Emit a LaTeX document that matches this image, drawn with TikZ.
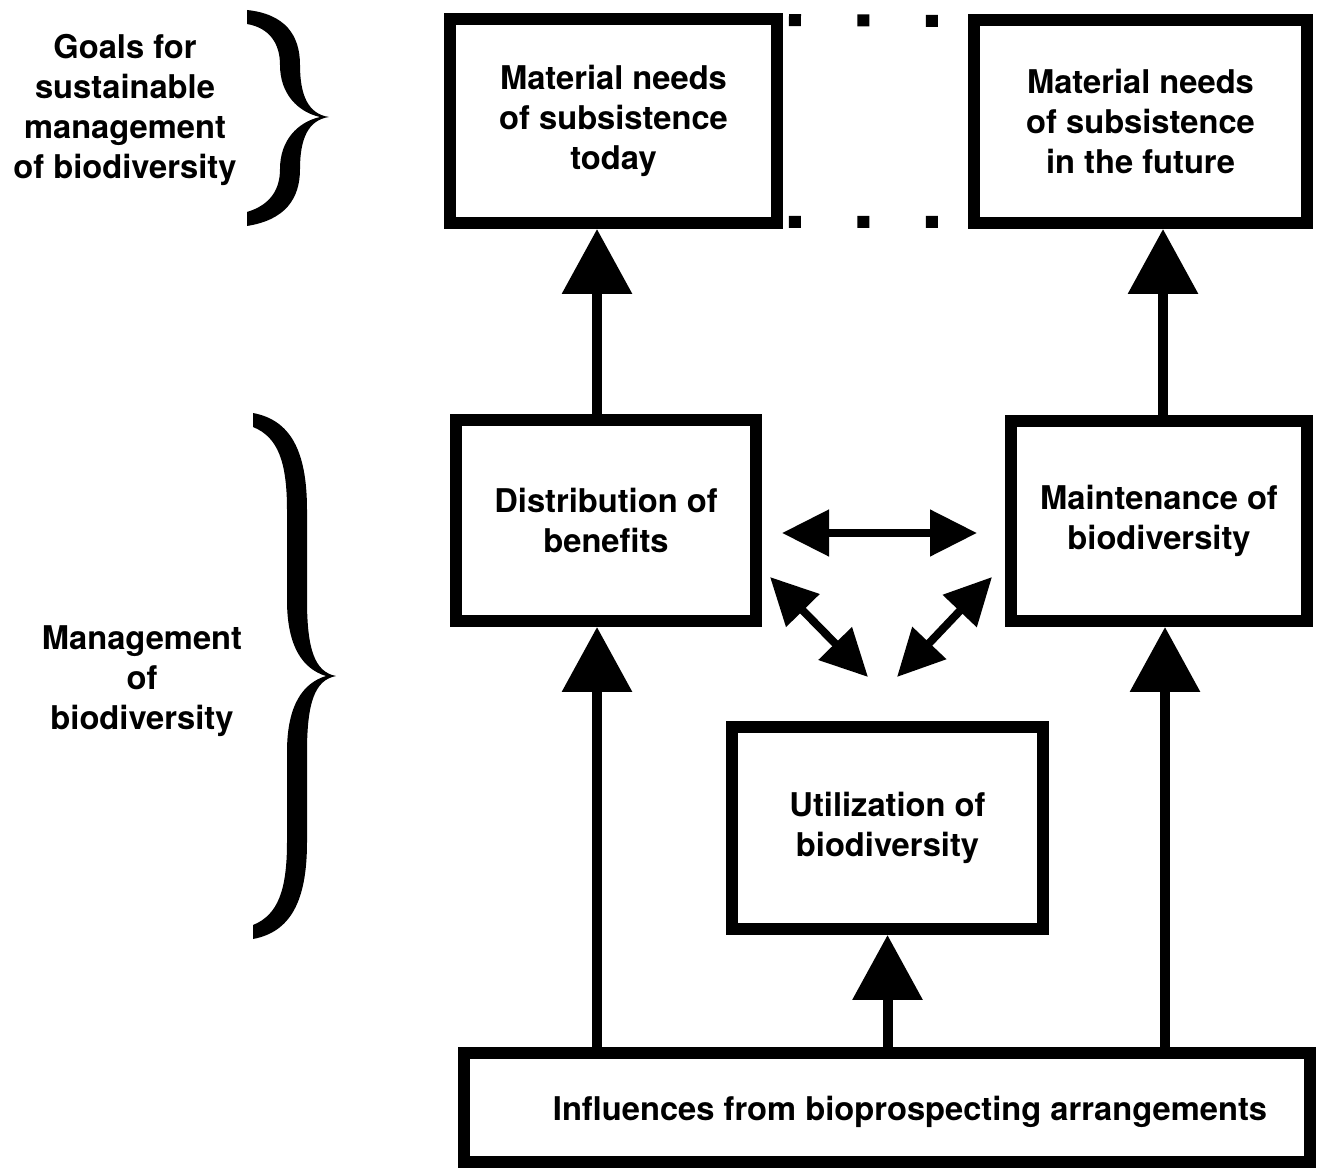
\documentclass[tikz,border=0pt]{standalone}
\usepackage{fontspec}
\setmainfont{TeX Gyre Heros}
\usetikzlibrary{arrows.meta}

\begin{document}
\begin{tikzpicture}[x=0.02cm, y=-0.02cm,
  font=\fontsize{18.6}{22.8}\selectfont\bfseries,
  box/.style={draw, rectangle, line width=0.24cm, align=center, inner sep=0pt},
  bigarrow/.style={line width=0.2cm, -{Triangle[width=1.36cm, length=1.3cm]}},
  twoway/.style={line width=0.16cm, {Triangle[width=0.9cm, length=0.94cm]}-{Triangle[width=0.9cm, length=0.94cm]}},
  gap/.style={line width=0.24cm, dash pattern=on 0.24cm off 1.13cm, dash phase=1.25cm}]
\useasboundingbox[fill=white] (0,0) rectangle (1327,1175);

\node[box, minimum width=6.54cm, minimum height=4.08cm](G1) at (613.5,121) {Material needs\\of subsistence\\today};
\node[box, minimum width=6.66cm, minimum height=4.06cm](G2) at (1140.5,121.5) {Material needs\\of subsistence\\in the future};
\node[box, minimum width=6cm, minimum height=4.02cm](M1) at (606,520.5) {Distribution of\\benefits};
\node[box, minimum width=5.92cm, minimum height=4cm](M2) at (1159,521) {Maintenance of\\biodiversity};
\node[box, minimum width=6.22cm, minimum height=4.04cm](U) at (887.5,828) {Utilization of\\biodiversity};
\node[box, minimum width=16.92cm, minimum height=2.18cm](I) at (887,1107.5) {};
\node (I_text) at ([xshift=0.46cm, yshift=-0.09cm]I.center) {Influences from bioprospecting arrangements};

\node[align=center](T1) at (125,110) {Goals for\\sustainable\\management\\of biodiversity};
\node[align=center](T2) at (142,681) {Management\\of\\biodiversity};

\draw[gap]([yshift=-0.14cm]G1.north east) -- ([yshift=-0.14cm]G2.north west);
\draw[gap]([yshift=0.14cm]G1.south east) -- ([yshift=0.14cm]G2.south west);

\coordinate (A1) at ([xshift=-0.18cm]M1.north);
\coordinate (A2) at ([xshift=0.08cm]M2.north);
\coordinate (A3) at ([xshift=-0.18cm]M1.south);
\coordinate (A4) at ([xshift=0.12cm]M2.south);
\draw[bigarrow](A1) -- (A1 |- G1.south);
\draw[bigarrow](A2) -- (A2 |- G2.south);
\draw[bigarrow](A3 |- I.north) -- (A3);
\draw[bigarrow](U.south |- I.north) -- (U.south);
\draw[bigarrow](A4 |- I.north) -- (A4);

\coordinate (H1) at (782,533);
\coordinate (H2) at (977,533);
\coordinate (L1) at (770,577);
\coordinate (L2) at (868,677);
\coordinate (R1) at (992,577);
\coordinate (R2) at (897,677);
\draw[twoway](H1) -- (H2);
\draw[twoway](L1) -- (L2);
\draw[twoway](R1) -- (R2);

\fill (247,10) .. controls (285,14) and (300,35) .. (300,65) .. controls (300,95) and (308,114) .. (329,117)
  .. controls (308,120) and (300,139) .. (300,169) .. controls (300,199) and (285,220) .. (247,226)
  -- (247,212) .. controls (270,205) and (280,190) .. (280,169) .. controls (280,140) and (298,122) .. (320,117)
  .. controls (298,112) and (280,94) .. (280,65) .. controls (280,44) and (270,28) .. (247,24) -- cycle;
\fill (253,413) .. controls (290,420) and (307,450) .. (307,510) -- (307,600) .. controls (307,650) and (315,672) .. (336,676)
  .. controls (315,680) and (307,702) .. (307,752) -- (307,842) .. controls (307,902) and (290,932) .. (253,939)
  -- (253,925) .. controls (278,915) and (287,890) .. (287,842) -- (287,752) .. controls (287,705) and (303,683) .. (326,676)
  .. controls (303,669) and (287,647) .. (287,600) -- (287,510) .. controls (287,462) and (278,437) .. (253,427) -- cycle;
\end{tikzpicture}
\end{document}
